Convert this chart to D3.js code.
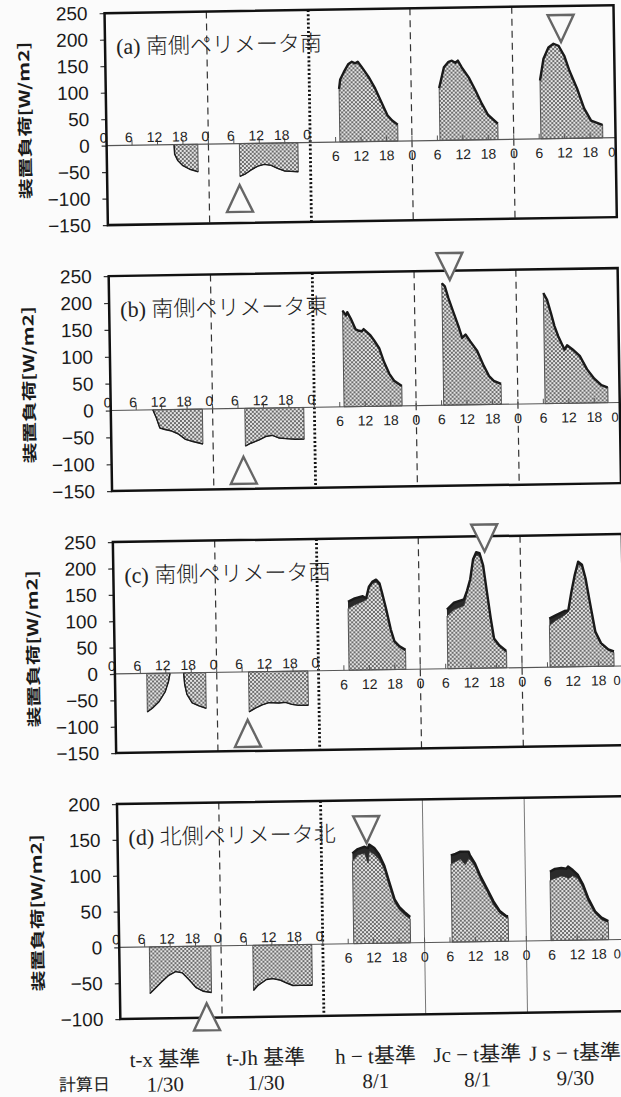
<!DOCTYPE html>
<html>
<head>
<meta charset="utf-8">
<script src="https://cdn.jsdelivr.net/npm/d3@7"></script>
<style>
  body { margin: 0; background: #fbfbfb; }
  svg { display: block; }
</style>
</head>
<body>
<div id="chart"></div>
<script>
// ---- data (hours are local hour of each day, day 0..4) ----
const titles = ["(a) 南側ペリメータ南", "(b) 南側ペリメータ東", "(c) 南側ペリメータ西", "(d) 北側ペリメータ北"];
const yTicksSouth = [250, 200, 150, 100, 50, 0, -50, -100, -150];
const yTicksNorth = [200, 150, 100, 50, 0, -50, -100];
const winterHours = [0, 6, 12, 18, 24, 30, 36, 42, 48];
const summerHours = [54, 60, 66, 72, 78, 84, 90, 96, 102, 108, 114, 120];
const dayNames = ["t-x 基準", "t-Jh 基準", "h − t基準", "Jc − t基準", "J s − t基準"];
const calcDates = ["1/30", "1/30", "8/1", "8/1", "9/30"];

// [day, [[hour, load, inner load], ...]]
const loadA = [
  [0, [[15.9, 0], [16.0, -18], [16.7, -30], [17.9, -40], [19.5, -47], [21.5, -52]]],
  [1, [[7.3, -62], [8.5, -58], [10.0, -50], [11.6, -43], [13.1, -40], [14.7, -42], [16.2, -48], [17.8, -53], [19.3, -54], [21.1, -55]]],
  [2, [[7.0, 100], [7.3, 118], [8.2, 132], [9.3, 147], [10.1, 151], [10.9, 148], [11.5, 151], [12.4, 141], [14.0, 122], [15.5, 100], [17.1, 71], [18.3, 49], [19.4, 39], [20.7, 31]]],
  [3, [[6.6, 99], [7.8, 138], [8.9, 148], [9.7, 150], [10.5, 146], [11.1, 150], [12.0, 137], [13.6, 118], [15.1, 94], [16.6, 68], [18.0, 47], [19.2, 38], [20.3, 30]]],
  [4, [[6.4, 110], [7.3, 151], [8.5, 172], [9.7, 179], [10.9, 175], [12.2, 156], [13.4, 127], [15.1, 94], [16.7, 56], [18.3, 33], [20.8, 25], [21.0, 25]]]
];
const loadB = [
  [0, [[9.9, 0], [10.7, -15], [11.5, -34], [12.7, -37], [14.3, -40], [15.9, -46], [17.5, -56], [19.2, -60], [21.6, -65]]],
  [1, [[7.6, -70], [8.9, -65], [10.9, -59], [12.4, -53], [14.0, -51], [15.5, -56], [17.9, -58], [19.4, -59], [21.5, -59]]],
  [2, [[7.0, 179], [7.8, 170], [8.1, 176], [8.9, 164], [10.0, 144], [10.8, 141], [11.5, 140], [11.9, 144], [13.5, 132], [14.3, 123], [15.5, 108], [16.6, 82], [17.8, 60], [18.9, 47], [20.7, 37]]],
  [3, [[6.5, 227], [7.2, 221], [8.0, 199], [9.2, 171], [10.3, 146], [11.1, 125], [11.9, 131], [13.0, 118], [14.6, 100], [16.1, 72], [17.3, 53], [18.4, 44], [20.1, 38]]],
  [4, [[6.4, 206], [7.25, 193], [8.1, 169], [8.9, 144], [9.75, 125], [10.6, 110], [11.2, 100], [11.8, 108], [13.1, 100], [14.75, 88], [16.4, 63], [18.1, 45], [19.75, 33], [21.0, 29], [21.25, 29]]]
];
const loadC = [
  [0, [[7.5, -73], [8.7, -66], [10.3, -54], [11.8, -35], [12.6, -16], [13.0, 0]]],
  [0, [[16.2, 0], [16.4, -22], [16.9, -41], [18.1, -57], [19.7, -63], [21.4, -68]]],
  [1, [[7.5, -76], [9.0, -69], [10.6, -63], [12.2, -59], [14.5, -60], [16.1, -59], [17.6, -63], [19.2, -65], [21.5, -65]]],
  [2, [[7.2, 130, 117], [8.8, 136, 124], [10.7, 140, 130], [11.5, 136, 134], [12.2, 158, 155], [13.0, 167, 164], [13.9, 171, 166], [14.7, 164, 160], [15.3, 145, 142], [16.2, 114, 111], [17.2, 76, 73], [18.0, 54, 52], [19.2, 44, 42], [20.6, 37, 35]]],
  [3, [[6.5, 112, 100], [8.2, 125, 112], [10.55, 131, 119], [11.3, 147, 143], [12.1, 169, 166], [12.85, 207, 204], [13.6, 220, 214], [14.4, 218, 213], [15.2, 195, 191], [16.0, 144, 141], [16.8, 94, 91], [17.5, 56, 54], [18.7, 43, 41], [20.2, 33, 31], [20.4, 33, 31]]],
  [4, [[6.6, 92, 79], [8.1, 98, 88], [10.2, 106, 98], [11.1, 107, 104], [11.9, 142, 139], [12.75, 174, 171], [13.6, 199, 194], [14.5, 193, 189], [15.3, 167, 164], [16.2, 123, 120], [17.4, 66, 63], [18.7, 44, 42], [20.4, 32, 30], [21.7, 28, 26]]]
];
const loadD = [
  [0, [[7.1, -65], [8.3, -58], [9.9, -49], [11.6, -40], [13.2, -35], [14.8, -37], [16.4, -47], [18.0, -58], [19.6, -63], [21.6, -65]]],
  [1, [[7.5, -63], [8.6, -56], [10.6, -48], [12.1, -47], [13.7, -49], [15.2, -53], [16.8, -57], [18.7, -57], [21.4, -57]]],
  [2, [[7.3, 126, 115], [8.6, 132, 124], [10.2, 135, 126], [11.0, 133, 112], [11.3, 138, 129], [12.5, 133, 124], [13.6, 124, 117], [14.8, 108, 103], [15.9, 85, 80], [17.1, 61, 57], [18.2, 50, 46], [19.4, 43, 39], [20.7, 36, 33]]],
  [3, [[6.5, 121, 109], [7.6, 123, 112], [8.75, 126, 116], [9.9, 126, 108], [10.7, 126, 116], [11.0, 121, 115], [12.2, 109, 105], [13.3, 93, 88], [14.9, 74, 70], [16.4, 56, 51], [17.9, 42, 39], [19.4, 35, 33], [19.8, 35, 33]]],
  [4, [[5.8, 96, 84], [7.0, 100, 87], [8.5, 101, 90], [9.7, 100, 88], [10.1, 103, 86], [11.2, 98, 90], [12.4, 91, 86], [13.6, 77, 72], [14.7, 59, 54], [16.3, 40, 37], [17.8, 31, 28], [19.4, 26, 24]]]
];
// peak markers: hour from start (0..120), load at the apex
const markers = [
  [0, "up", 31.2, -78], [0, "down", 107.5, 182],
  [1, "up", 31.1, -90], [1, "down", 80.4, 233],
  [2, "up", 31.1, -91], [2, "down", 87.6, 221],
  [3, "up", 20.4, -80], [3, "down", 58.7, 140]
];

// ---- layout ----
const W = 621, H = 1097;
const plotLeft = 113, plotRight = 622;
const panels = [
  { top: 10, bottom: 222, domain: [-150, 250], ticks: yTicksSouth, load: loadA, sep: ["dash", "dot", "dash", "dash"], endShift: -4, lastShift: 0 },
  { top: 273, bottom: 488, domain: [-150, 250], ticks: yTicksSouth, load: loadB, sep: ["dash", "dot", "dash", "dash"], endShift: -5, lastShift: 0 },
  { top: 539, bottom: 750, domain: [-150, 250], ticks: yTicksSouth, load: loadC, sep: ["dash", "dot", "dash", "dash"], endShift: -7, lastShift: 0 },
  { top: 801, bottom: 1016, domain: [-100, 200], ticks: yTicksNorth, load: loadD, sep: ["dash", "dot", "solid", "solid"], endShift: -11, lastShift: -4 }
];
const labelShift = [-7, -8, 0, 0, -4];

const numFont = "'Liberation Sans', Arial, sans-serif";
const narrowFont = "'Liberation Sans Narrow', 'Liberation Sans', sans-serif";
const jpFont = "'Liberation Serif', 'Noto Sans CJK JP', serif";

const svg = d3.select("#chart").append("svg")
  .attr("width", W)
  .attr("height", H);

// stipple fill, staggered dots
const defs = svg.append("defs");
const pat = defs.append("pattern")
  .attr("id", "dots")
  .attr("patternUnits", "userSpaceOnUse")
  .attr("width", 4).attr("height", 4);
pat.append("rect").attr("width", 4).attr("height", 4).attr("fill", "#e4e4e4");
[[1, 1], [3, 3]].forEach(([cx, cy]) => {
  pat.append("circle").attr("cx", cx).attr("cy", cy).attr("r", 0.95).attr("fill", "#3a3a3a");
});

// the scan is slightly tilted
const root = svg.append("g").attr("transform", "rotate(-0.9, 310, 550)");

const x = d3.scaleLinear().domain([0, 120]).range([plotLeft, plotRight]);

panels.forEach((p, i) => {
  const g = root.append("g");
  const y = d3.scaleLinear().domain(p.domain).range([p.bottom, p.top]);

  // day separators
  [24, 48, 72, 96].forEach((h, k) => {
    const kind = p.sep[k];
    const line = g.append("line")
      .attr("x1", x(h)).attr("x2", x(h))
      .attr("y1", p.top).attr("y2", p.bottom);
    if (kind === "dash") line.attr("stroke", "#333").attr("stroke-width", 1.2).attr("stroke-dasharray", "7,5");
    else if (kind === "dot") line.attr("stroke", "#111").attr("stroke-width", 2.8).attr("stroke-dasharray", "2,2.2");
    else line.attr("stroke", "#777").attr("stroke-width", 1);
  });

  // load curves
  const series = p.load.map(([day, pts]) =>
    pts.map(d => [day * 24 + d[0], d[1], d.length > 2 ? d[2] : d[1]]));

  const fillArea = d3.area().x(d => x(d[0])).y0(y(0)).y1(d => y(d[2]));
  const bandArea = d3.area().x(d => x(d[0])).y0(d => y(d[2])).y1(d => y(d[1]));
  const edge = d3.line().x(d => x(d[0])).y(d => y(d[1]));

  series.forEach(s => {
    g.append("path").attr("d", fillArea(s))
      .attr("fill", "url(#dots)").attr("stroke", "#333").attr("stroke-width", 0.8);
    g.append("path").attr("d", bandArea(s)).attr("fill", "#2a2a2a");
    const positive = d3.max(s, d => d[1]) > 0;
    g.append("path").attr("d", edge(s))
      .attr("fill", "none").attr("stroke", "#1a1a1a")
      .attr("stroke-width", positive ? 2.4 : 1.4)
      .attr("stroke-linejoin", "round");
  });

  // zero line with hour ticks
  g.append("line")
    .attr("x1", plotLeft).attr("x2", plotRight)
    .attr("y1", y(0)).attr("y2", y(0))
    .attr("stroke", "#555").attr("stroke-width", 1.2);
  g.selectAll(".hourTick").data(winterHours.concat(summerHours)).enter().append("line")
    .attr("x1", d => x(d)).attr("x2", d => x(d))
    .attr("y1", y(0)).attr("y2", y(0) - 5)
    .attr("stroke", "#555").attr("stroke-width", 1);

  g.selectAll(".winterLabel").data(winterHours).enter().append("text")
    .attr("x", d => x(d) - 3)
    .attr("y", y(0) - 3)
    .attr("text-anchor", "middle")
    .attr("font-family", narrowFont).attr("font-size", 14).attr("fill", "#222")
    .text(d => d % 24);
  g.selectAll(".summerLabel").data(summerHours).enter().append("text")
    .attr("x", d => d === 120 ? x(d) + p.endShift : d === 114 ? x(d) + p.lastShift : x(d))
    .attr("y", y(0) + 19)
    .attr("text-anchor", "middle")
    .attr("font-family", narrowFont).attr("font-size", d => d === 120 ? 13 : 14).attr("fill", "#222")
    .text(d => d % 24);

  // y axis
  const axis = g.append("g")
    .attr("transform", `translate(${plotLeft},0)`)
    .call(d3.axisLeft(y).tickValues(p.ticks).tickSize(5).tickPadding(12)
      .tickFormat(d => d < 0 ? "−" + (-d) : String(d)));
  axis.select(".domain").remove();
  axis.selectAll("line").attr("stroke", "#333").attr("stroke-width", 1.2);
  axis.selectAll("text")
    .attr("font-family", numFont).attr("font-size", 19).attr("fill", "#1a1a1a");

  // frame
  g.append("rect")
    .attr("x", plotLeft).attr("y", p.top)
    .attr("width", plotRight - plotLeft).attr("height", p.bottom - p.top)
    .attr("fill", "none").attr("stroke", "#111").attr("stroke-width", 2.5);

  // title
  g.append("text")
    .attr("x", 124).attr("y", p.top + 41)
    .attr("font-family", jpFont).attr("font-size", 22).attr("font-weight", 300)
    .attr("fill", "#222")
    .text(titles[i]);

  // y axis title
  g.append("text")
    .attr("transform", `translate(37, ${(p.top + p.bottom) / 2}) rotate(-90) scale(1.38, 1)`)
    .attr("text-anchor", "middle")
    .attr("font-family", "'Noto Sans CJK JP', sans-serif")
    .attr("font-size", 15).attr("font-weight", 700).attr("fill", "#1a1a1a")
    .text("装置負荷[W/m2]");

  // peak markers
  markers.filter(m => m[0] === i).forEach(([, dir, h, v]) => {
    const cx = x(h), ay = y(v);
    const by = dir === "up" ? ay + 27 : ay - 27;
    g.append("path")
      .attr("d", `M${cx},${ay} L${cx - 13},${by} L${cx + 13},${by} Z`)
      .attr("fill", "#fbfbfb").attr("stroke", "#666").attr("stroke-width", 2.4)
      .attr("stroke-linejoin", "miter");
  });
});

// bottom captions
root.selectAll(".dayName").data(dayNames).enter().append("text")
  .attr("x", (d, k) => x(12 + 24 * k) + labelShift[k])
  .attr("y", 1064)
  .attr("text-anchor", "middle")
  .attr("font-family", jpFont).attr("font-size", 21).attr("fill", "#222")
  .text(d => d);
root.selectAll(".calcDate").data(calcDates).enter().append("text")
  .attr("x", (d, k) => x(12 + 24 * k) + labelShift[k])
  .attr("y", 1089)
  .attr("text-anchor", "middle")
  .attr("font-family", jpFont).attr("font-size", 21).attr("fill", "#222")
  .text(d => d);
root.append("text")
  .attr("x", 76).attr("y", 1087)
  .attr("text-anchor", "middle")
  .attr("font-family", "'Noto Sans CJK JP', sans-serif").attr("font-size", 17).attr("fill", "#222")
  .text("計算日");
</script>
</body>
</html>
